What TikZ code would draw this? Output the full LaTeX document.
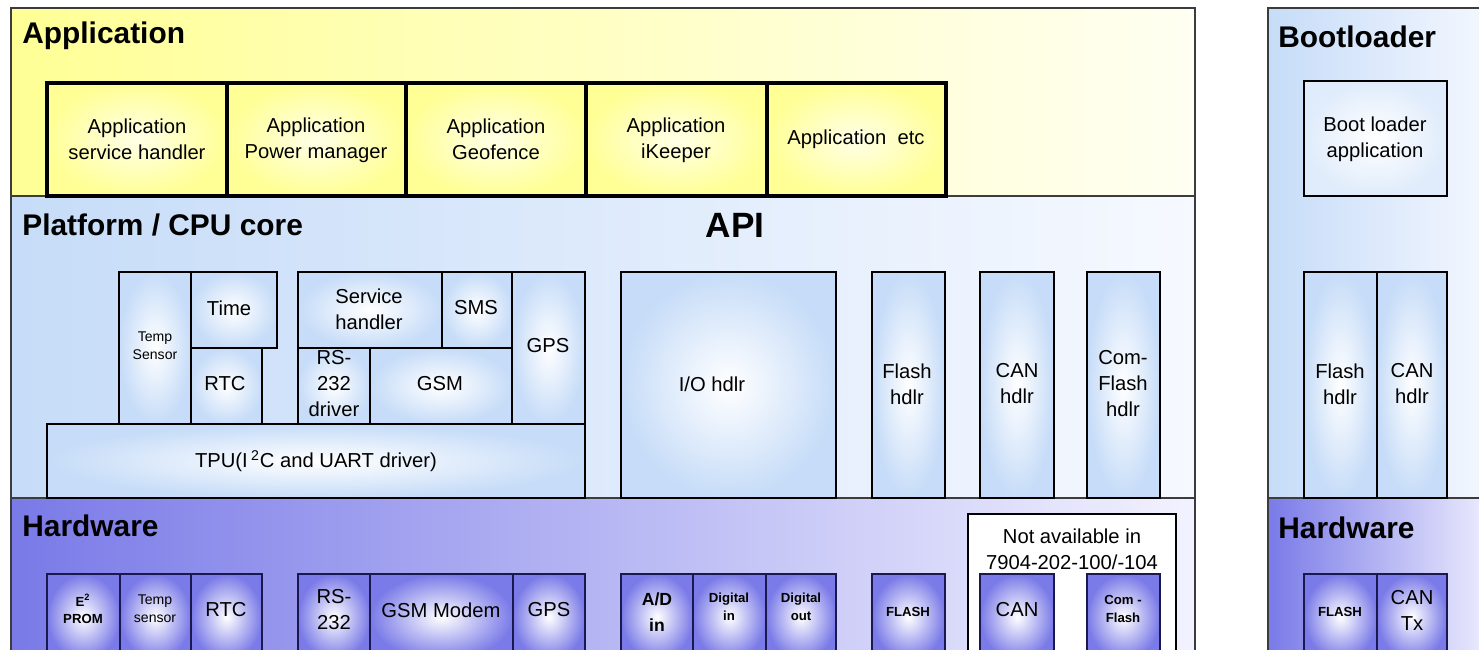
\documentclass[tikz,border=0pt]{standalone}
\usepackage{fontspec}
\setmainfont{Liberation Sans}
\usepackage{tikz}
\usetikzlibrary{positioning}
\definecolor{appyellow}{RGB}{255,255,150}
\definecolor{appfade}{RGB}{255,255,242}
\definecolor{appcore}{RGB}{255,255,232}
\definecolor{cpublue}{RGB}{198,220,248}
\definecolor{cpufade}{RGB}{246,249,255}
\definecolor{hwpurple}{RGB}{122,122,232}
\definecolor{hwfade}{RGB}{242,242,255}
\definecolor{hwnavy}{RGB}{25,25,80}
\definecolor{linegrey}{RGB}{60,60,60}

\begin{document}
\begin{tikzpicture}[x=0.2mm, y=-0.2mm,
    layerline/.style={draw=linegrey, line width=0.8pt},
    appbox/.style={draw=black, line width=2pt, inner color=appcore, outer color=appyellow},
    cpubox/.style={draw=black, line width=0.7pt, inner color=white, outer color=cpublue},
    hwbox/.style={draw=hwnavy, line width=0.7pt, inner color=white, outer color=hwpurple},
    txt/.style={font=\fontsize{11.5}{14.8}\selectfont, align=center, inner sep=0pt},
    tinytxt/.style={font=\fontsize{8}{10}\selectfont, align=center, inner sep=0pt},
    tinybold/.style={font=\fontsize{7.5}{10}\selectfont\bfseries, align=center, inner sep=0pt},
    layertitle/.style={font=\fontsize{17}{20}\selectfont\bfseries, anchor=west, inner sep=0pt}]
    \useasboundingbox (0,0) rectangle (1479,649);
    \clip (0,0) rectangle (1479,649);
    \fill[white] (0,0) rectangle (1479,649);

    % layers
    \shade[left color=appyellow, right color=appfade] (11,8) rectangle (1195,196);
    \shade[left color=cpublue, right color=cpufade] (11,196) rectangle (1195,498);
    \shade[left color=hwpurple, right color=hwfade] (11,498) rectangle (1195,700);
    \shade[left color=cpublue, right color=cpufade] (1268,8) rectangle (1500,498);
    \shade[left color=hwpurple, right color=hwfade] (1268,498) rectangle (1500,700);
    \draw[layerline] (11,8) rectangle (1195,700);
    \draw[layerline] (11,196) -- (1195,196) (11,498) -- (1195,498);
    \draw[layerline] (1268,8) rectangle (1500,700);
    \draw[layerline] (1268,498) -- (1500,498);

    \node[layertitle] (apptitle) at (22,36) {Application};
    \node[layertitle] (cputitle) at (22,225) {Platform / CPU core};
    \node[layertitle] (hwtitle) at (22,526) {Hardware};
    \node[layertitle] (boottitle) at (1278,37) {Bootloader};
    \node[layertitle] (boothwtitle) at (1278,528) {Hardware};
    \node[font=\fontsize{20}{22}\selectfont\bfseries, inner sep=0pt] (api) at (735,225) {API};

    % application layer
    \path[appbox] (47,83) rectangle (227,196);
    \path[appbox] (227,83) rectangle (406,196);
    \path[appbox] (406,83) rectangle (586,196);
    \path[appbox] (586,83) rectangle (767,196);
    \path[appbox] (767,83) rectangle (946,196);
    \node[txt] (appsrv) at (137,139) {Application\\service handler};
    \node[txt] (apppwr) at (316,140) {Application\\Power manager};
    \node[txt] (appgeo) at (496,139) {Application\\Geofence};
    \node[txt] (appkeep) at (676,140) {Application\\iKeeper};
    \node[txt] (appetc) at (856,139) {Application~ etc};

    % platform layer
    \path[cpubox] (119,272) rectangle (191,424);
    \path[cpubox] (191,272) rectangle (277,348);
    \path[cpubox] (191,348) rectangle (262,424);
    \path[cpubox] (298,272) rectangle (442,348);
    \path[cpubox] (442,272) rectangle (512,348);
    \path[cpubox] (512,272) rectangle (585,424);
    \path[cpubox] (298,348) rectangle (370,424);
    \path[cpubox] (370,348) rectangle (512,424);
    \path[cpubox] (47,424) rectangle (585,498);
    \path[cpubox] (621,272) rectangle (836,498);
    \path[cpubox] (872,272) rectangle (945,498);
    \path[cpubox] (980,272) rectangle (1054,498);
    \path[cpubox] (1087,272) rectangle (1160,498);
    \node[tinytxt] (tempsens) at (155,346) {Temp\\Sensor};
    \node[txt] (time) at (229,308) {Time};
    \node[txt] (rtc) at (225,384) {RTC};
    \node[txt] (srvhdl) at (369,309) {Service\\handler};
    \node[txt] (sms) at (476,308) {SMS};
    \node[txt] (gps) at (548,346) {GPS};
    \node[txt] (rsdrv) at (334,384) {RS-\\232\\driver};
    \node[txt] (gsm) at (440,384) {GSM};
    \node[txt] (tpu) at (316,461) {TPU(I\,\textsuperscript{2}C and UART driver)};
    \node[txt] (iohdl) at (712,384) {I/O hdlr};
    \node[txt] (flashhdl) at (907,384) {Flash\\hdlr};
    \node[txt] (canhdl) at (1017,384) {CAN\\hdlr};
    \node[txt] (comhdl) at (1123,384) {Com-\\Flash\\hdlr};

    % hardware layer
    \draw[black, fill=white, line width=0.8pt] (968,514) rectangle (1176,700);
    \node[txt] (notavail) at (1072,549) {Not available in\\7904-202-100/-104};
    \path[hwbox] (47,574) rectangle (120,660);
    \path[hwbox] (120,574) rectangle (191,660);
    \path[hwbox] (191,574) rectangle (262,660);
    \path[hwbox] (298,574) rectangle (370,660);
    \path[hwbox] (370,574) rectangle (513,660);
    \path[hwbox] (513,574) rectangle (585,660);
    \path[hwbox] (621,574) rectangle (693,660);
    \path[hwbox] (693,574) rectangle (766,660);
    \path[hwbox] (766,574) rectangle (836,660);
    \path[hwbox] (872,574) rectangle (945,660);
    \path[hwbox] (980,574) rectangle (1054,660);
    \path[hwbox] (1087,574) rectangle (1160,660);
    \node[tinybold] (eeprom) at (83,609) {E\textsuperscript{2}\\PROM};
    \node[tinytxt] (tempsensor) at (155,609) {Temp\\sensor};
    \node[txt] (rtchw) at (226,610) {RTC};
    \node[txt] (rshw) at (334,610) {RS-\\232};
    \node[txt] (gsmhw) at (441,610) {GSM Modem};
    \node[txt] (gpshw) at (549,610) {GPS};
    \node[font=\fontsize{10}{15}\selectfont\bfseries, align=center, inner sep=0pt] (adin) at (657,612) {A/D\\in};
    \node[tinybold] (digin) at (729,607) {Digital\\in};
    \node[tinybold] (digout) at (801,607) {Digital\\out};
    \node[tinybold] (flashhw) at (908,612) {FLASH};
    \node[txt] (canhw) at (1017,610) {CAN};
    \node[tinybold] (comhw) at (1123,609) {Com -\\Flash};

    % bootloader
    \path[cpubox, inner color=white, outer color=cpublue!55] (1304,81) rectangle (1447,196);
    \node[txt] (bootapp) at (1375,139) {Boot loader\\application};
    \path[cpubox] (1304,272) rectangle (1377,498);
    \path[cpubox] (1377,272) rectangle (1447,498);
    \node[txt] (bootflash) at (1340,384) {Flash\\hdlr};
    \node[txt] (bootcan) at (1412,384) {CAN\\hdlr};
    \path[hwbox] (1304,574) rectangle (1377,660);
    \path[hwbox] (1377,574) rectangle (1447,660);
    \node[tinybold] (bootflashhw) at (1340,612) {FLASH};
    \node[txt] (bootcantx) at (1412,610) {CAN\\Tx};
\end{tikzpicture}
\end{document}
